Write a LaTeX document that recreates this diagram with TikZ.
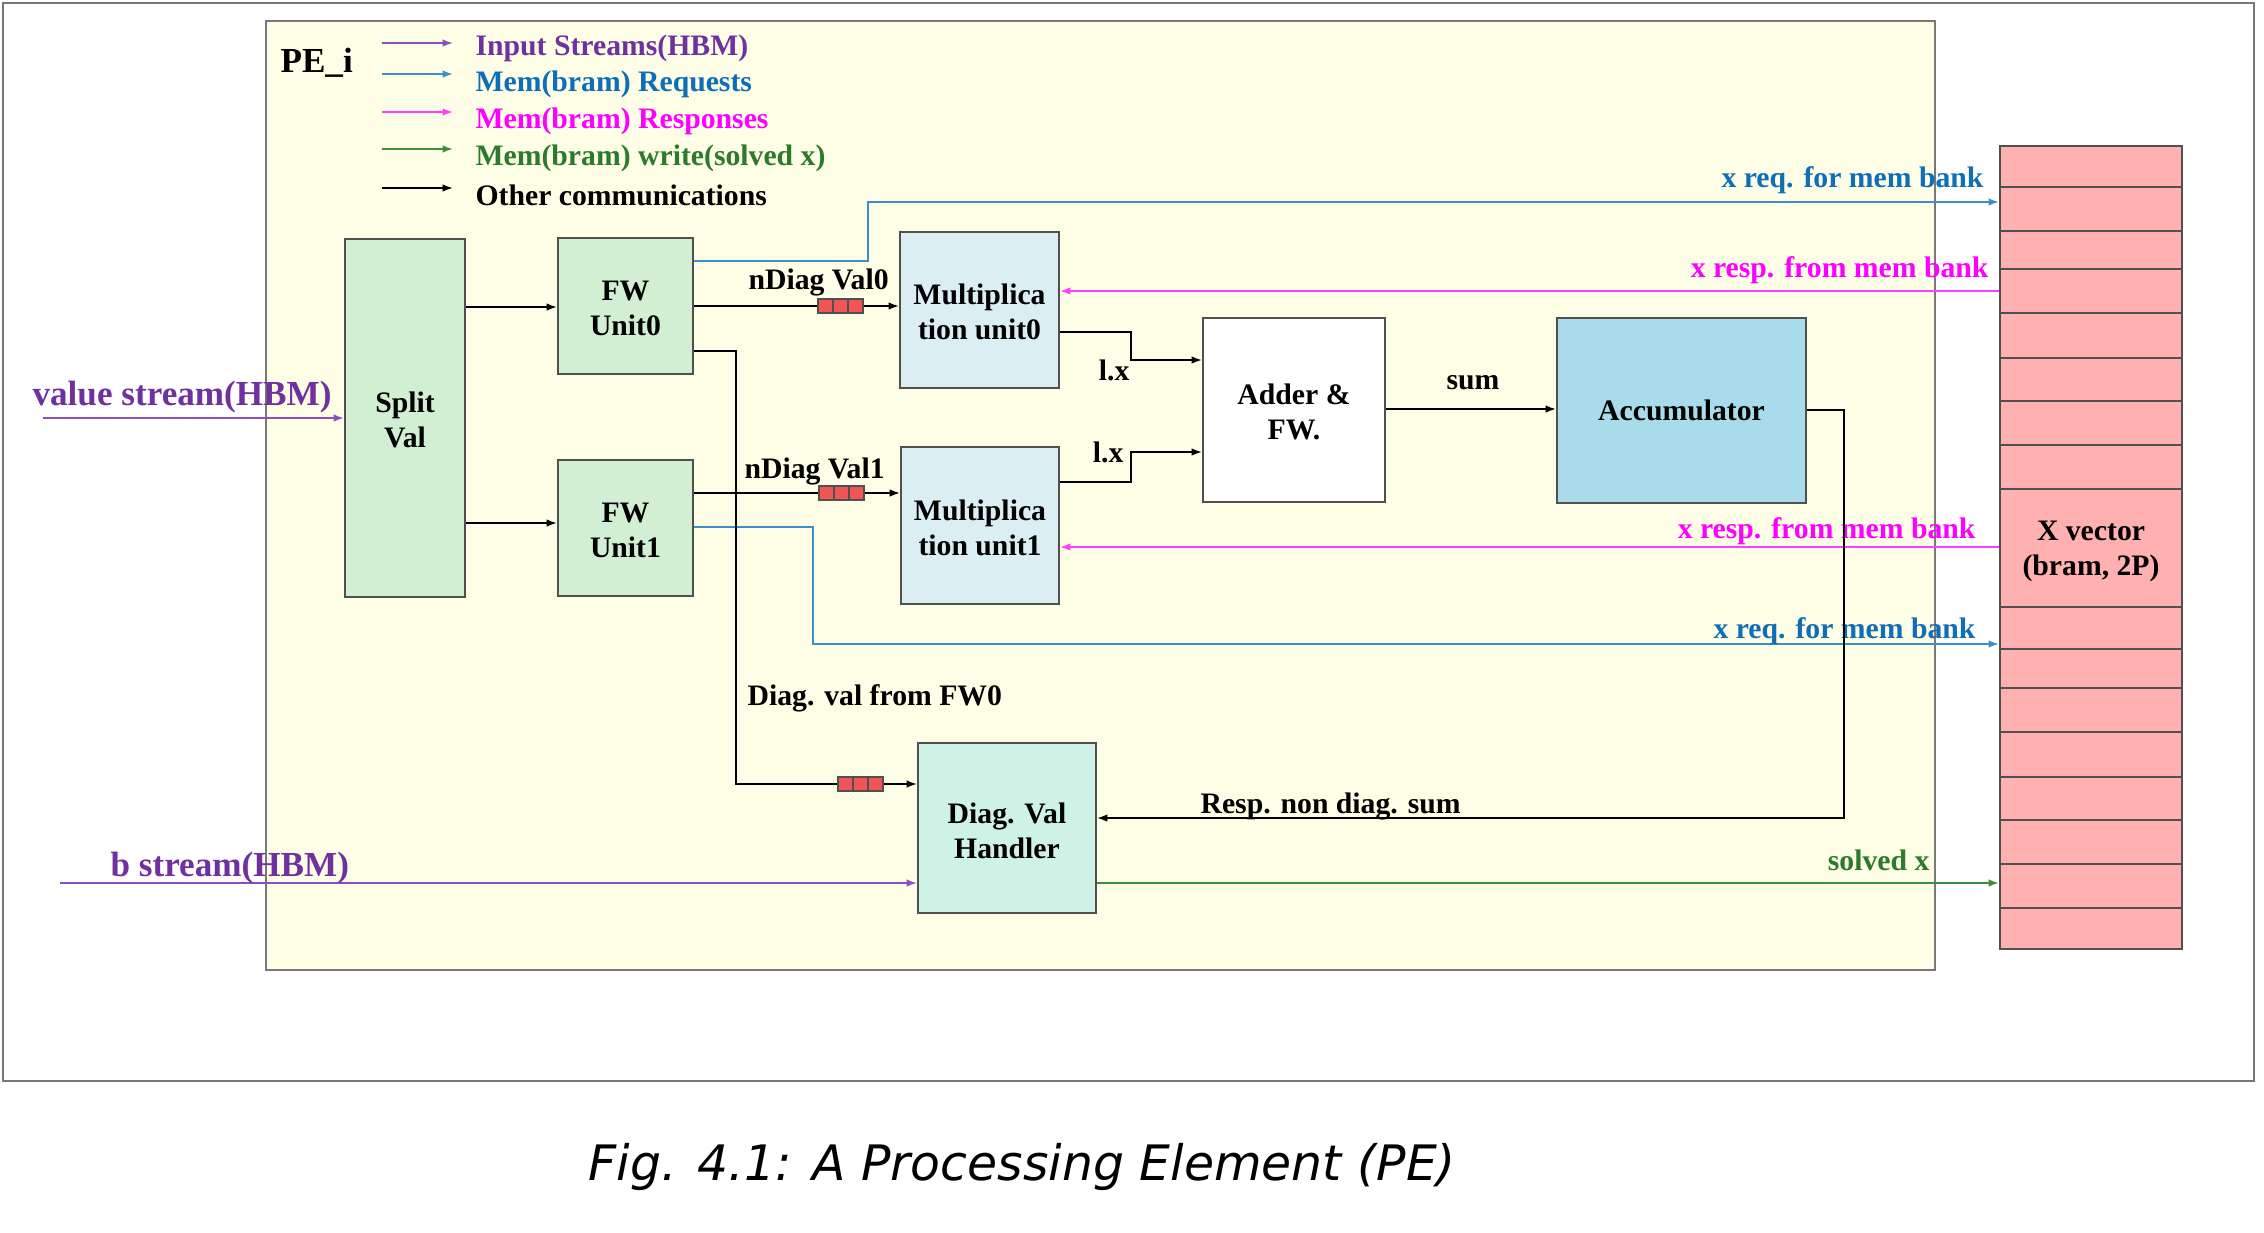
\documentclass[tikz,border=0pt]{standalone}
\usepackage{fontspec}
\setmainfont{Liberation Serif}
\newfontfamily\capfont{DejaVu Sans}
\usetikzlibrary{arrows.meta,fit}
\definecolor{pefill}{RGB}{254,254,230}
\definecolor{gfill}{RGB}{211,239,211}
\definecolor{mfill}{RGB}{219,238,244}
\definecolor{accfill}{RGB}{169,220,235}
\definecolor{dfill}{RGB}{207,242,230}
\definecolor{xfill}{RGB}{255,176,176}
\definecolor{qfill}{RGB}{242,85,85}
\definecolor{bordergray}{RGB}{80,80,80}
\definecolor{framegray}{RGB}{120,120,120}
\definecolor{pltext}{RGB}{112,48,160}
\definecolor{plline}{RGB}{138,79,192}
\definecolor{bltext}{RGB}{14,110,184}
\definecolor{blline}{RGB}{61,143,204}
\definecolor{pktext}{RGB}{255,0,255}
\definecolor{pkline}{RGB}{255,60,255}
\definecolor{grtext}{RGB}{44,122,44}
\definecolor{grline}{RGB}{62,142,62}
\newcommand\fifo[2]{\foreach \k in {0,1,2} \draw[fill=qfill,draw=bordergray,line width=0.5pt] (#1+\k*15,#2-7) rectangle ++(15,14);}
\begin{document}
\begin{tikzpicture}[x=0.35pt,y=-0.35pt,
  box/.style={draw=bordergray,line width=0.7pt,inner sep=0pt},
  boxtxt/.style={inner sep=0pt,align=center,
    font=\fontsize{10.4}{12.25}\selectfont\bfseries},
  lbl/.style={inner sep=0pt,font=\fontsize{10.4}{12.25}\selectfont\bfseries},
  biglbl/.style={inner sep=0pt,font=\fontsize{12.3}{14}\selectfont\bfseries},
  con/.style={line width=0.6pt},
  arr/.style={con,-{Latex[length=3.6pt,width=2.6pt]}}]
\useasboundingbox (0,0) rectangle (2264,1232);
% outer frame
\draw[framegray,line width=0.5pt] (3,3) rectangle (2254,1081);
% PE box
\node[draw=framegray,line width=0.6pt,fill=pefill,inner sep=0pt,fit={(266,21)(1935,970)}] (pe) {};
\node[biglbl,anchor=base west] (pelbl) at (280,72) {PE\_i};
% legend
\foreach \i/\y/\c/\ty/\t/\tc in {1/43/plline/55/Input Streams(HBM)/pltext,
    2/74/blline/91/Mem(bram) Requests/bltext,
    3/112/pkline/128/Mem(bram) Responses/pktext,
    4/149/grline/165/Mem(bram) write(solved x)/grtext,
    5/188/black/205/Other communications/black}{
  \coordinate (la\i) at (382,\y);
  \coordinate (lb\i) at (453,\y);
  \draw[arr,\c] (la\i) -- (lb\i);
  \node[lbl,anchor=base west,text=\tc] (lt\i) at (475,\ty) {\t};
}
% boxes
\node[box,fill=gfill,fit={(345,239)(465,597)}] (split) {};
\node[boxtxt] at ([yshift=-2*0.35pt]split.center) {Split\\Val};
\node[box,fill=gfill,fit={(558,238)(693,374)}] (fw0) {};
\node[boxtxt] at ([yshift=-2*0.35pt]fw0.center) {FW\\Unit0};
\node[box,fill=gfill,fit={(558,460)(693,596)}] (fw1) {};
\node[boxtxt] at ([yshift=-2*0.35pt]fw1.center) {FW\\Unit1};
\node[box,fill=mfill,fit={(900,232)(1059,388)}] (mul0) {};
\node[boxtxt] at ([yshift=-2*0.35pt]mul0.center) {Multiplica\\tion unit0};
\node[box,fill=mfill,fit={(901,447)(1059,604)}] (mul1) {};
\node[boxtxt] at ([yshift=-2*0.35pt]mul1.center) {Multiplica\\tion unit1};
\node[box,fill=white,fit={(1203,318)(1385,502)}] (adder) {};
\node[boxtxt] at ([yshift=-2*0.35pt]adder.center) {Adder \&\\FW.};
\node[box,fill=accfill,fit={(1557,318)(1806,503)}] (acc) {};
\node[boxtxt] at (acc.center) {Accumulator};
\node[box,fill=dfill,fit={(918,743)(1096,913)}] (diag) {};
\node[boxtxt] at ([yshift=-3*0.35pt]diag.center) {Diag. Val\\Handler};
\node[box,fill=xfill,fit={(2000,146)(2182,949)}] (xvec) {};
\foreach \y in {187,231,269,313,358,401,445,489,607,649,688,732,777,820,864,908}
  \draw[bordergray,line width=0.6pt] (xvec.west |- 0,\y) -- (xvec.east |- 0,\y);
\node[boxtxt] (xvlbl) at (2091,551) {X vector\\(bram, 2P)};
% input streams
\coordinate (vsin) at (43,418);
\draw[arr,plline] (vsin) -- (split.west |- vsin);
\node[biglbl,anchor=base west,text=pltext] (vslbl) at (32,405) {value stream(HBM)};
\coordinate (bsin) at (60,883);
\draw[arr,plline] (bsin) -- (diag.west |- bsin);
\node[biglbl,anchor=base west,text=pltext] (bslbl) at (110,876) {b stream(HBM)};
% split -> FW units
\draw[arr] (split.east |- 0,307) -- (fw0.west |- 0,307);
\draw[arr] (split.east |- 0,523) -- (fw1.west |- 0,523);
% FW -> multipliers
\draw[arr] (fw0.east |- 0,306) -- (mul0.west |- 0,306);
\fifo{818}{306}
\node[lbl,anchor=base west] (nd0) at (748,289) {nDiag Val0};
\draw[arr] (fw1.east |- 0,493) -- (mul1.west |- 0,493);
\fifo{819}{493}
\node[lbl,anchor=base west] (nd1) at (744,478) {nDiag Val1};
% memory requests
\draw[arr,blline] (fw0.east |- 0,261) -| (868,202) -- (xvec.west |- 0,202);
\node[lbl,anchor=base east,text=bltext] (rq0) at (1984,187) {x req. for mem bank};
\draw[arr,blline] (fw1.east |- 0,527) -| (813,644) -- (xvec.west |- 0,644);
\node[lbl,anchor=base east,text=bltext] (rq1) at (1976,638) {x req. for mem bank};
% memory responses
\draw[arr,pkline] (xvec.west |- 0,291) -- (mul0.east |- 0,291);
\node[lbl,anchor=base east,text=pktext] (rs0) at (1989,277) {x resp. from mem bank};
\draw[arr,pkline] (xvec.west |- 0,547) -- (mul1.east |- 0,547);
\node[lbl,anchor=base east,text=pktext] (rs1) at (1976,538) {x resp. from mem bank};
% multipliers -> adder
\draw[arr] (mul0.east |- 0,332) -| (1131,360) -- (adder.west |- 0,360);
\node[lbl,anchor=base east] (lx0) at (1130,380) {l.x};
\draw[arr] (mul1.east |- 0,482) -| (1131,452) -- (adder.west |- 0,452);
\node[lbl,anchor=base east] (lx1) at (1124,462) {l.x};
% adder -> accumulator
\draw[arr] (adder.east |- 0,409) -- (acc.west |- 0,409);
\node[lbl,anchor=base west] (sumlbl) at (1446,389) {sum};
% accumulator -> diag handler
\draw[arr] (acc.east |- 0,410) -| (1844,818) -- (diag.east |- 0,818);
\node[lbl,anchor=base west] (rnd) at (1200,813) {Resp. non diag. sum};
% FW0 -> diag handler
\draw[arr] (fw0.east |- 0,351) -| (736,784) -- (diag.west |- 0,784);
\fifo{838}{784}
\node[lbl,anchor=base west] (dvl) at (747,705) {Diag. val from FW0};
% solved x
\draw[arr,grline] (diag.east |- 0,883) -- (xvec.west |- 0,883);
\node[lbl,anchor=base east,text=grtext] (svx) at (1930,870) {solved x};
% caption
\node[inner sep=0pt,anchor=base west,font=\capfont\itshape\fontsize{17.1}{20}\selectfont] (cap) at (588,1180) {Fig. 4.1: A Processing Element (PE)};
\end{tikzpicture}
\end{document}
